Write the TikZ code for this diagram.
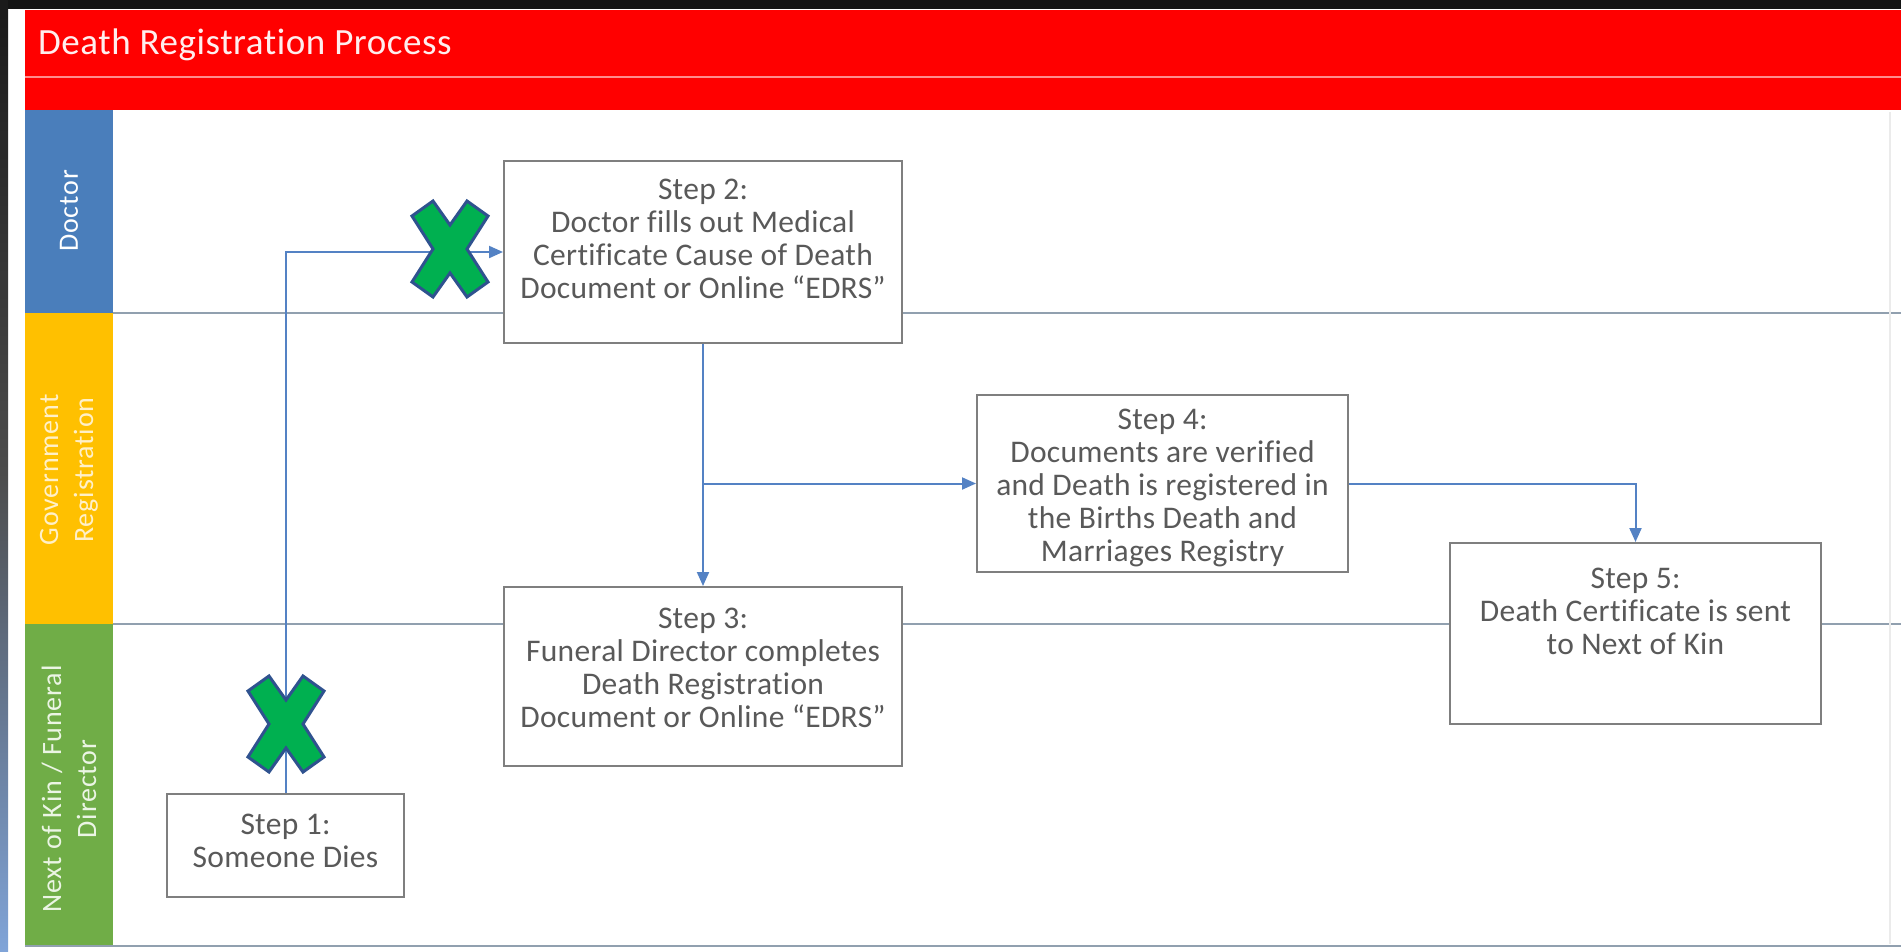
\documentclass[tikz,border=0pt]{standalone}
\usepackage{fontspec}
\setmainfont{Carlito}[Ligatures=NoCommon]
\usetikzlibrary{arrows.meta}
\definecolor{hdrred}{RGB}{255,0,0}
\definecolor{hdrline}{RGB}{255,140,140}
\definecolor{docblue}{RGB}{74,126,187}
\definecolor{govyellow}{RGB}{255,192,0}
\definecolor{kingreen}{RGB}{112,173,71}
\definecolor{txtgray}{RGB}{89,89,89}
\definecolor{connblue}{RGB}{84,130,196}
\definecolor{boxgray}{RGB}{127,127,127}
\definecolor{lanegray}{RGB}{145,160,175}
\definecolor{xgreen}{RGB}{0,176,80}
\definecolor{xblue}{RGB}{47,82,143}
\definecolor{govtxt}{RGB}{255,240,200}
\definecolor{kintxt}{RGB}{235,245,228}
\definecolor{titletxt}{RGB}{255,238,238}
\begin{document}
\begin{tikzpicture}[x=1pt,y=-1pt,
  stepbox/.style={draw=boxgray,line width=2pt,fill=white,inner sep=0pt},
  steptxt/.style={text=txtgray,align=center,inner sep=0pt,font=\fontsize{31.5}{33}\selectfont\addfontfeatures{LetterSpace=1}},
  lanelbl/.style={rotate=90,align=center,inner sep=0pt,font=\fontsize{28}{35}\selectfont\addfontfeatures{LetterSpace=3}},
  laneline/.style={draw=lanegray,line width=2pt},
  conn/.style={draw=connblue,line width=2pt,-{Triangle[length=14pt,width=12pt]}},
  xmark/.style={fill=xgreen,draw=xblue,line width=3pt,line join=miter},
  greenx/.pic={\path[xmark] (-38,-33) -- (-17,-48) -- (0,-24) -- (17,-48) -- (38,-33) -- (17,0) -- (38,33) -- (17,48) -- (0,24) -- (-17,48) -- (-38,33) -- (-17,0) -- cycle;}
]
\useasboundingbox (0,0) rectangle (1901,951);
\fill[white] (0,0) rectangle (1901,951);
% outer dark frame
\fill[black!92] (0,0) rectangle (1901,9);
\shade[top color=black!90, bottom color={rgb,255:red,128;green,164;blue,216}, middle color=black!70] (0,0) rectangle (8,951);
% header
\fill[hdrred] (25,10) rectangle (1901,110);
\draw[hdrline,line width=1.5pt] (25,77) -- (1901,77);
\node[anchor=base west,inner sep=0pt,text=titletxt,font=\fontsize{37}{40}\selectfont\addfontfeatures{LetterSpace=1.5}] (ttl) at (38,54) {Death Registration Process};
% lane bands
\fill[docblue] (25,110) rectangle (113,313);
\fill[govyellow] (25,313) rectangle (113,624);
\fill[kingreen] (25,624) rectangle (113,946);
\node[lanelbl,text=white] (ldoc) at (69,211) {Doctor};
\node[lanelbl,text=govtxt] (lgov) at (69,470) {Government\\Registration};
\node[lanelbl,text=kintxt] (lkin) at (69,789) {Next of Kin / Funeral\\Director};
% lane lines
\draw[laneline] (113,313) -- (1901,313);
\draw[laneline] (113,624) -- (1901,624);
\draw[laneline] (25,946) -- (1901,946);
\draw[black!8,line width=1.5pt] (1890,112) -- (1890,944);
% boxes
\node[stepbox,minimum width=398pt,minimum height=182pt] (s2) at (703,252) {};
\node[stepbox,minimum width=398pt,minimum height=179pt] (s3) at (703,676.5) {};
\node[stepbox,minimum width=371pt,minimum height=177pt] (s4) at (1162.5,483.5) {};
\node[stepbox,minimum width=371pt,minimum height=181pt] (s5) at (1635.5,633.5) {};
\node[stepbox,minimum width=237pt,minimum height=103pt] (s1) at (285.5,845.5) {};
% connectors
\draw[conn] (s1.north) |- (s2.west);
\draw[conn] (s2.south) -- (s3.north);
\coordinate (br) at (s2.south |- s4.west);
\draw[conn] (br) -- (s4.west);
\draw[conn] (s4.east) -| (s5.north);
% texts
\node[steptxt] (t2) at (703,239) {Step 2:\\Doctor fills out Medical\\Certificate Cause of Death\\Document or Online “EDRS”};
\node[steptxt] (t3) at (703,668) {Step 3:\\Funeral Director completes\\Death Registration\\Document or Online “EDRS”};
\node[steptxt] (t4) at (1162.5,488) {Step 4:\\Documents are verified\\and Death is registered in\\the Births Death and\\Marriages Registry};
\node[steptxt] (t5) at (1635.5,611) {Step 5:\\Death Certificate is sent\\to Next of Kin};
\node[steptxt] (t1) at (285.5,841) {Step 1:\\Someone Dies};
% crosses
\pic at (450,249) {greenx};
\pic at (286,724) {greenx};
\end{tikzpicture}
\end{document}
